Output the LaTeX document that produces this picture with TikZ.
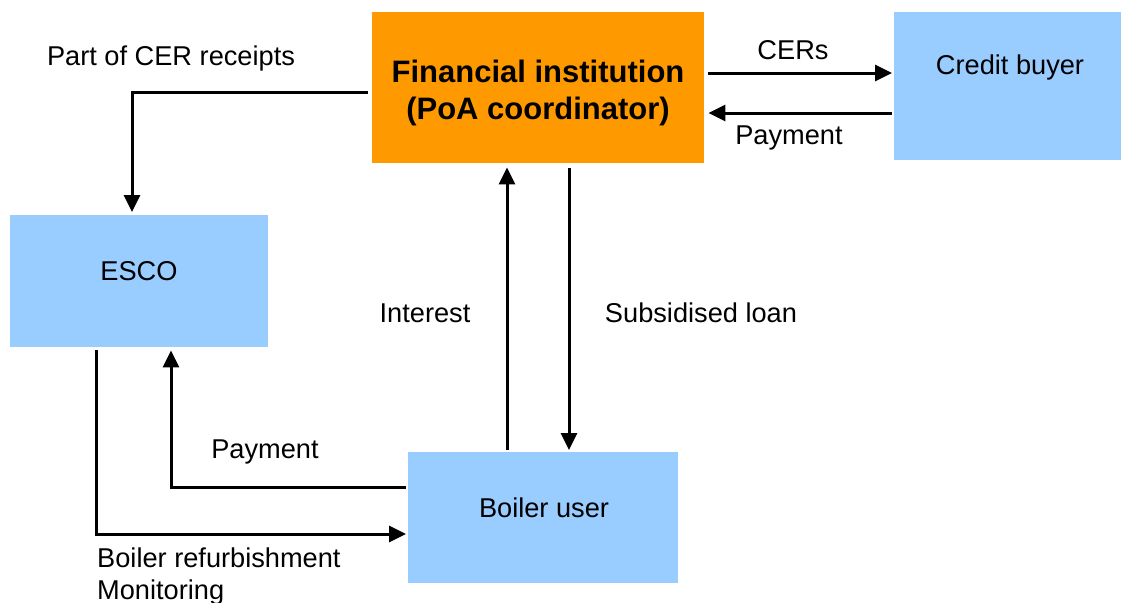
\documentclass[tikz,border=0pt]{standalone}
\usepackage{fontspec}
\setmainfont{Liberation Sans}
\usetikzlibrary{arrows.meta}
\definecolor{orng}{HTML}{FF9900}
\definecolor{lblue}{HTML}{99CCFF}
\begin{document}
\begin{tikzpicture}[x=1pt,y=-1pt,
  box/.style={draw=none,inner sep=0pt,anchor=north west},
  lbl/.style={font=\fontsize{27.2}{31}\selectfont,inner sep=0pt},
  arr/.style={line width=3pt,-{Triangle[length=17pt,width=16pt]}}]
\useasboundingbox (0,0) rectangle (1121,602);
\clip (0,0) rectangle (1121,602);
% boxes
\node[box,fill=orng,minimum width=332pt,minimum height=151pt] (fi) at (372,12) {};
\node[box,fill=lblue,minimum width=227pt,minimum height=148pt] (cb) at (894,12) {};
\node[box,fill=lblue,minimum width=258pt,minimum height=132pt] (esco) at (10,215) {};
\node[box,fill=lblue,minimum width=270pt,minimum height=131pt] (bu) at (408,452) {};
% box texts
\node[font=\bfseries\fontsize{31}{37}\selectfont,align=center,inner sep=0pt] (fit) at (538,93) {Financial institution\\(PoA coordinator)};
\node[lbl] (cbt) at (1010,67) {Credit buyer};
\node[lbl] (escot) at (139,271) {ESCO};
\node[lbl] (but) at (544,508) {Boiler user};
% labels
\node[lbl] (l1) at (171,58) {Part of CER receipts};
\node[lbl] (l2) at (793,50) {CERs};
\node[lbl] (l3) at (789,138) {Payment};
\node[lbl] (l4) at (425,313) {Interest};
\node[lbl] (l5) at (701,313) {Subsidised loan};
\node[lbl] (l6) at (265,452) {Payment};
\node[lbl,anchor=west,align=left,font=\fontsize{27.2}{32}\selectfont] (l7) at (97,576) {Boiler refurbishment\\Monitoring};
% connectors
\draw[arr,shorten <=4pt,shorten >=2pt] (fi.east |- 0,73) -- (cb.west |- 0,73);
\draw[arr,shorten <=2pt,shorten >=4pt] (cb.west |- 0,113) -- (fi.east |- 0,113);
\draw[arr,shorten <=4pt,shorten >=3pt] (fi.west |- 0,92) -| (esco.north -| 132,0);
\draw[arr,shorten <=2pt,shorten >=4pt] (bu.north -| 507,0) -- (fi.south -| 507,0);
\draw[arr,shorten <=5pt,shorten >=2pt] (fi.south -| 569,0) -- (bu.north -| 569,0);
\draw[arr,shorten <=2pt,shorten >=3pt] (bu.west |- 0,487) -| (esco.south -| 171,0);
\draw[arr,shorten <=3pt,shorten >=2pt] (esco.south -| 96,0) |- (bu.west |- 0,534);
\end{tikzpicture}
\end{document}
